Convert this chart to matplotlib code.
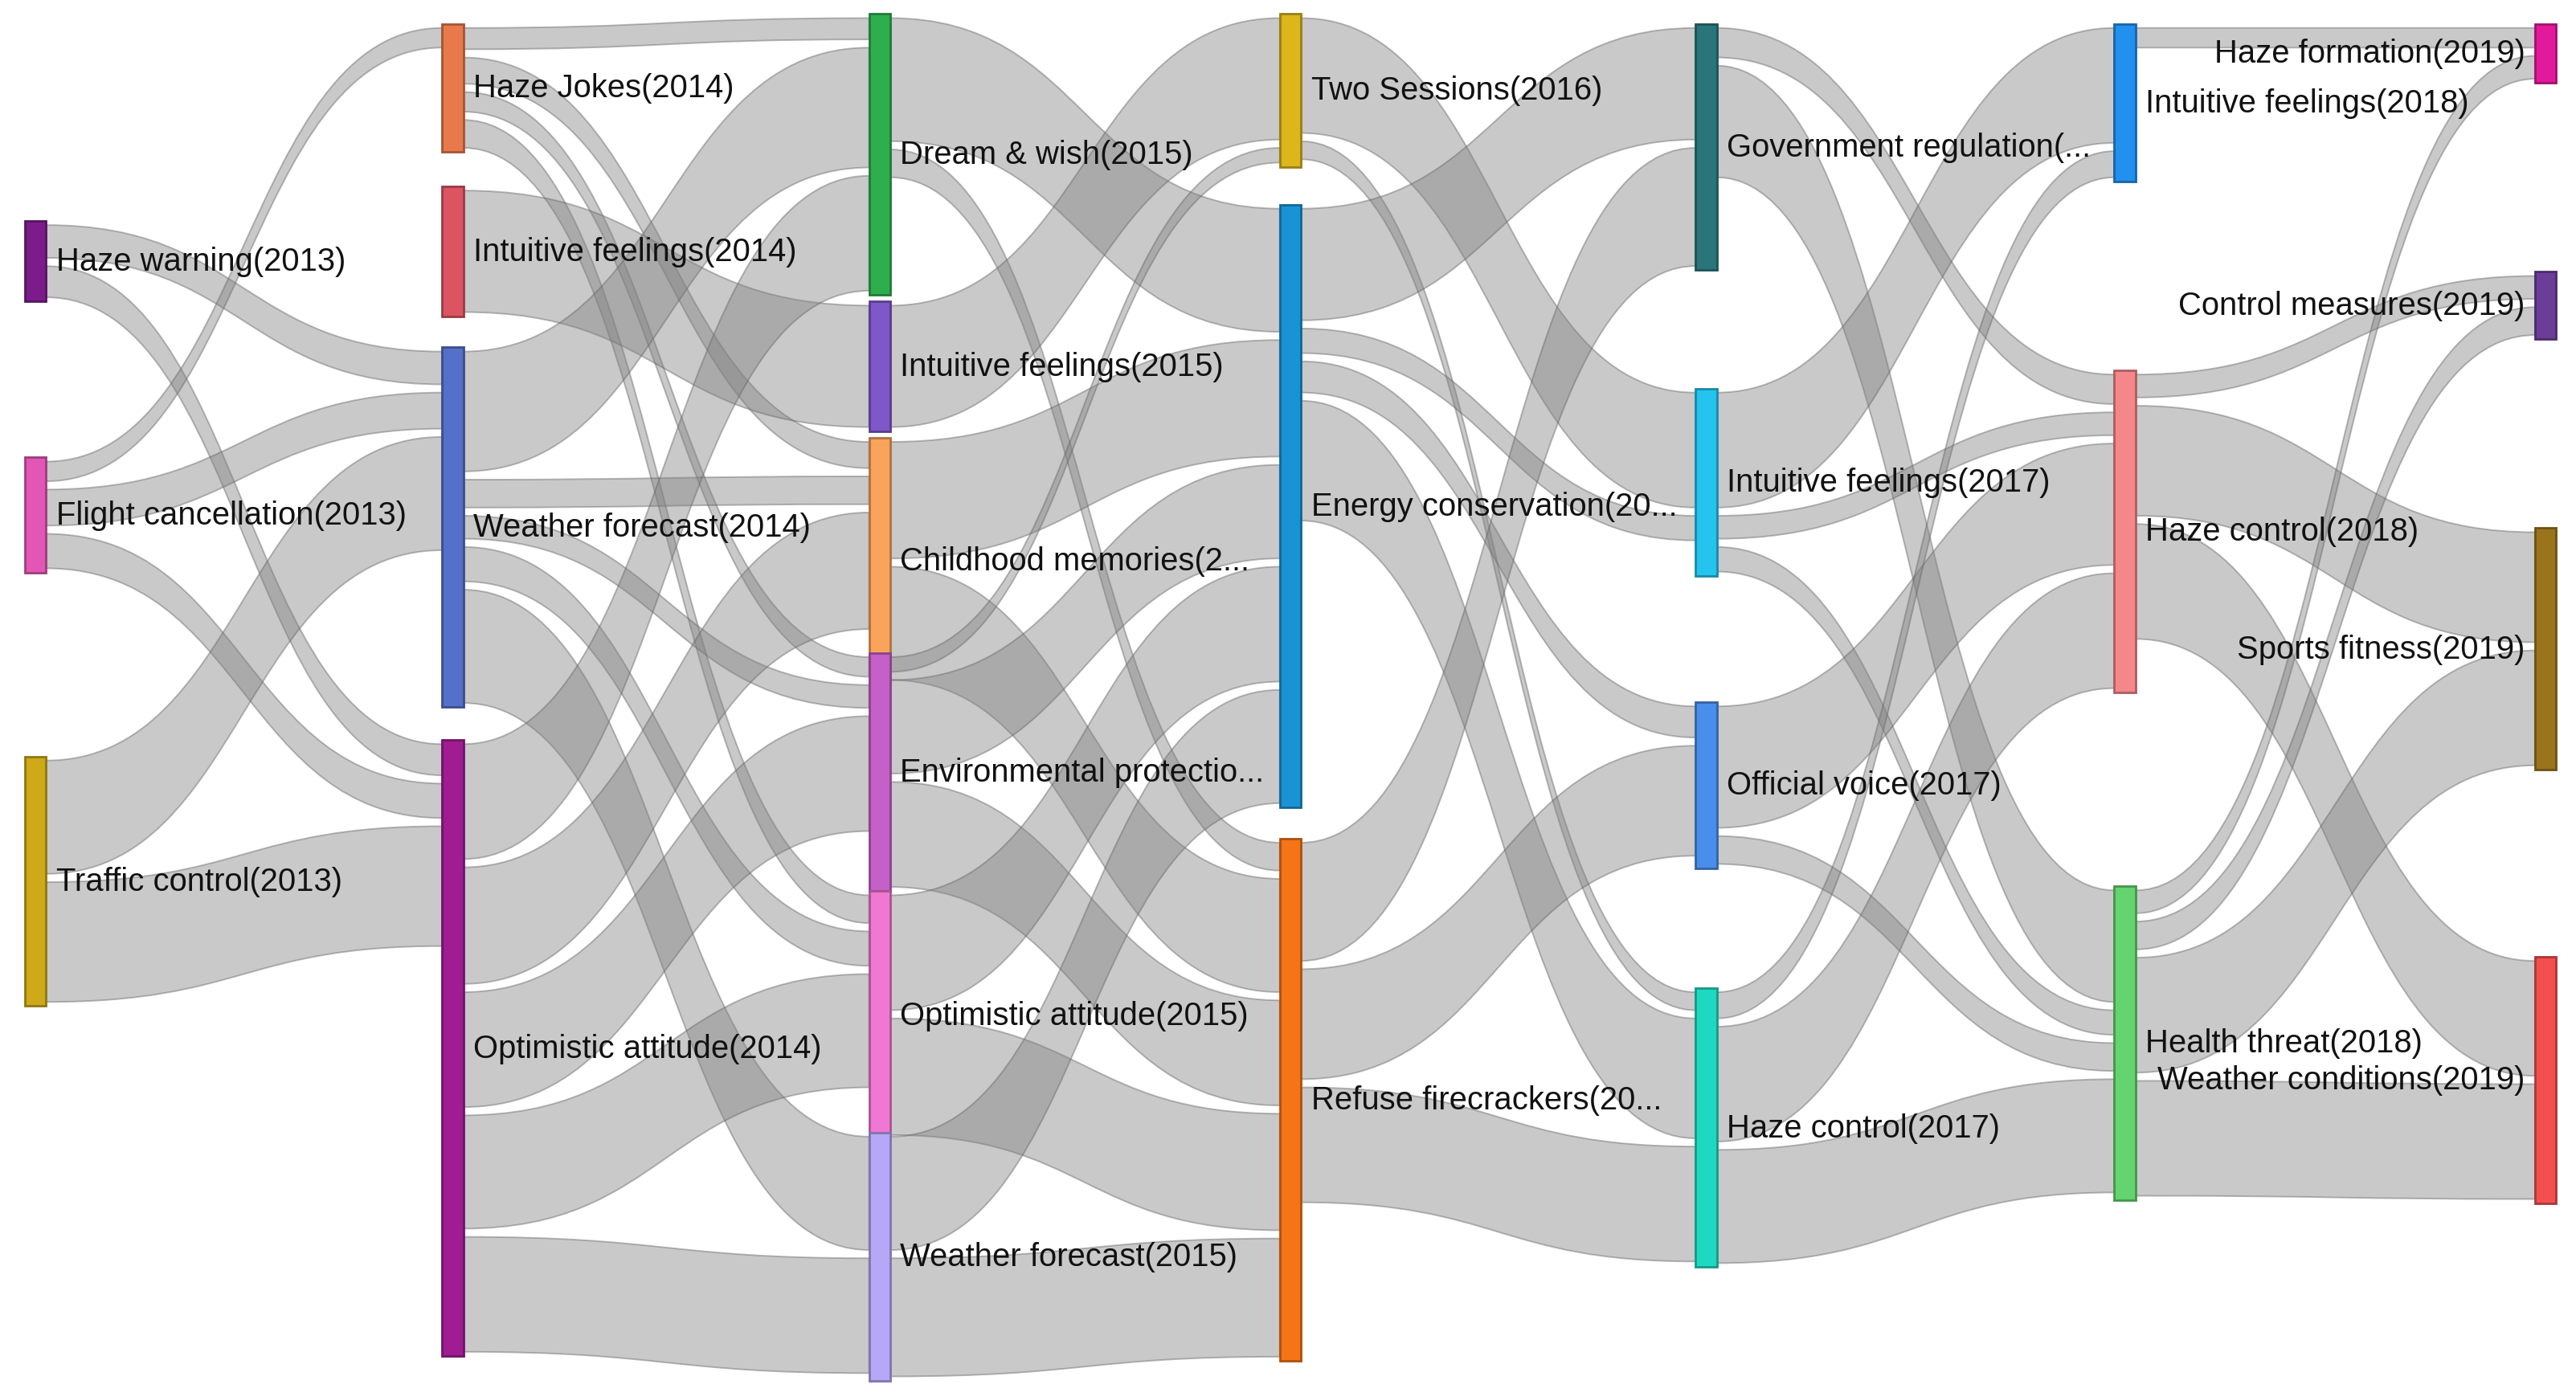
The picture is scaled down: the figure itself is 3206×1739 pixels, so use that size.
import matplotlib.pyplot as plt
from matplotlib.path import Path
from matplotlib.patches import PathPatch, Rectangle
from matplotlib import colors as mcolors

# topics per year (column = year index)
node_labels = [
    "Haze warning(2013)", "Flight cancellation(2013)", "Traffic control(2013)",
    "Haze Jokes(2014)", "Intuitive feelings(2014)", "Weather forecast(2014)", "Optimistic attitude(2014)",
    "Dream & wish(2015)", "Intuitive feelings(2015)", "Childhood memories(2...", "Environmental protectio...",
    "Optimistic attitude(2015)", "Weather forecast(2015)",
    "Two Sessions(2016)", "Energy conservation(20...", "Refuse firecrackers(20...",
    "Government regulation(...", "Intuitive feelings(2017)", "Official voice(2017)", "Haze control(2017)",
    "Intuitive feelings(2018)", "Haze control(2018)", "Health threat(2018)",
    "Haze formation(2019)", "Control measures(2019)", "Sports fitness(2019)", "Weather conditions(2019)",
]
node_column = [0, 0, 0, 1, 1, 1, 1, 2, 2, 2, 2, 2, 2, 3, 3, 3, 4, 4, 4, 4, 5, 5, 5, 6, 6, 6, 6]
node_colors = [
    "#7b1c8a", "#e257b5", "#cdaa19",
    "#e8794a", "#db5461", "#5470c8", "#a01c92",
    "#2fae4e", "#7e57c9", "#f9a35b", "#c460c8", "#f078d2", "#b7a7f7",
    "#dcb61b", "#1a93d4", "#f57416",
    "#2a757a", "#23c4ee", "#4a8eeb", "#1ed9c2",
    "#2190ee", "#f5868a", "#64d46e",
    "#e3199b", "#6a3d99", "#9a741b", "#f34f4f",
]

link_source = [
    "Haze warning(2013)", "Haze warning(2013)",
    "Flight cancellation(2013)", "Flight cancellation(2013)", "Flight cancellation(2013)",
    "Traffic control(2013)", "Traffic control(2013)",
    "Haze Jokes(2014)", "Haze Jokes(2014)", "Haze Jokes(2014)", "Haze Jokes(2014)",
    "Intuitive feelings(2014)",
    "Weather forecast(2014)", "Weather forecast(2014)", "Weather forecast(2014)",
    "Weather forecast(2014)", "Weather forecast(2014)",
    "Optimistic attitude(2014)", "Optimistic attitude(2014)", "Optimistic attitude(2014)",
    "Optimistic attitude(2014)", "Optimistic attitude(2014)",
    "Dream & wish(2015)", "Dream & wish(2015)",
    "Intuitive feelings(2015)",
    "Childhood memories(2...", "Childhood memories(2...",
    "Environmental protectio...", "Environmental protectio...", "Environmental protectio...",
    "Optimistic attitude(2015)", "Optimistic attitude(2015)",
    "Weather forecast(2015)", "Weather forecast(2015)",
    "Two Sessions(2016)", "Two Sessions(2016)",
    "Energy conservation(20...", "Energy conservation(20...", "Energy conservation(20...",
    "Energy conservation(20...",
    "Refuse firecrackers(20...", "Refuse firecrackers(20...", "Refuse firecrackers(20...",
    "Government regulation(...", "Government regulation(...",
    "Intuitive feelings(2017)", "Intuitive feelings(2017)", "Intuitive feelings(2017)",
    "Official voice(2017)", "Official voice(2017)",
    "Haze control(2017)", "Haze control(2017)", "Haze control(2017)",
    "Intuitive feelings(2018)",
    "Haze control(2018)", "Haze control(2018)", "Haze control(2018)",
    "Health threat(2018)", "Health threat(2018)", "Health threat(2018)", "Health threat(2018)",
]
link_target = [
    "Weather forecast(2014)", "Optimistic attitude(2014)",
    "Haze Jokes(2014)", "Weather forecast(2014)", "Optimistic attitude(2014)",
    "Weather forecast(2014)", "Optimistic attitude(2014)",
    "Dream & wish(2015)", "Childhood memories(2...", "Environmental protectio...", "Optimistic attitude(2015)",
    "Intuitive feelings(2015)",
    "Dream & wish(2015)", "Childhood memories(2...", "Environmental protectio...",
    "Optimistic attitude(2015)", "Weather forecast(2015)",
    "Dream & wish(2015)", "Childhood memories(2...", "Environmental protectio...",
    "Optimistic attitude(2015)", "Weather forecast(2015)",
    "Energy conservation(20...", "Refuse firecrackers(20...",
    "Two Sessions(2016)",
    "Energy conservation(20...", "Refuse firecrackers(20...",
    "Two Sessions(2016)", "Energy conservation(20...", "Refuse firecrackers(20...",
    "Energy conservation(20...", "Refuse firecrackers(20...",
    "Energy conservation(20...", "Refuse firecrackers(20...",
    "Intuitive feelings(2017)", "Haze control(2017)",
    "Government regulation(...", "Intuitive feelings(2017)", "Official voice(2017)",
    "Haze control(2017)",
    "Government regulation(...", "Official voice(2017)", "Haze control(2017)",
    "Haze control(2018)", "Health threat(2018)",
    "Intuitive feelings(2018)", "Haze control(2018)", "Health threat(2018)",
    "Haze control(2018)", "Health threat(2018)",
    "Intuitive feelings(2018)", "Haze control(2018)", "Health threat(2018)",
    "Haze formation(2019)",
    "Control measures(2019)", "Sports fitness(2019)", "Weather conditions(2019)",
    "Haze formation(2019)", "Control measures(2019)", "Sports fitness(2019)", "Weather conditions(2019)",
]
link_value = [
    25, 24,
    17, 27, 26,
    74, 78,
    18, 21, 17, 22,
    79,
    78, 22, 19, 26, 74,
    75, 76, 75, 74, 75,
    80, 22,
    79,
    76, 74,
    14, 62, 69,
    75, 76,
    74, 77,
    75, 16,
    73, 20, 24, 78,
    77, 72, 75,
    23, 73,
    75, 19, 20,
    79, 22,
    21, 75, 74,
    17,
    19, 72, 75,
    19, 22, 75, 75,
]

# layout: canvas is 1568 x 851 units, node tops as placed in the original layout
col_x = [15, 269, 529, 779, 1032, 1287, 1543]
node_top = [135, 279, 461,
            15, 114, 212, 451,
            9, 184, 267, 398, 543, 690,
            9, 125, 511,
            15, 237, 428, 602,
            15, 226, 540,
            15, 166, 322, 583]
W, H = 1568, 851
node_w = 13
inset = 2.5

fig = plt.figure(figsize=(3206 / 200, 1740 / 200), dpi=200)
ax = fig.add_axes([0, 0, 1, 1])
ax.set_xlim(0, W)
ax.set_ylim(H, 0)
ax.axis("off")

idx = {lab: i for i, lab in enumerate(node_labels)}
src = [idx[s] for s in link_source]
tgt = [idx[t] for t in link_target]
n = len(node_labels)
in_sum = [0] * n
out_sum = [0] * n
for s, t, v in zip(src, tgt, link_value):
    out_sum[s] += v
    in_sum[t] += v
height = [max(a, b) for a, b in zip(in_sum, out_sum)]
center = [node_top[i] + height[i] / 2 for i in range(n)]
xpos = [col_x[c] for c in node_column]

# stack links inside each node, ordered by the position of the other end
out_off, in_off = {}, {}
for i in range(n):
    y = node_top[i]
    for k in sorted([k for k in range(len(src)) if src[k] == i], key=lambda k: center[tgt[k]]):
        out_off[k] = y
        y += link_value[k]
    y = node_top[i]
    for k in sorted([k for k in range(len(tgt)) if tgt[k] == i], key=lambda k: center[src[k]]):
        in_off[k] = y
        y += link_value[k]

for k, v in enumerate(link_value):
    x0 = xpos[src[k]] + node_w
    x1 = xpos[tgt[k]]
    xm = (x0 + x1) / 2
    a0, a1 = out_off[k] + inset, out_off[k] + v - inset
    b0, b1 = in_off[k] + inset, in_off[k] + v - inset
    verts = [(x0, a0), (xm, a0), (xm, b0), (x1, b0),
             (x1, b1), (xm, b1), (xm, a1), (x0, a1), (x0, a0)]
    codes = [Path.MOVETO, Path.CURVE4, Path.CURVE4, Path.CURVE4,
             Path.LINETO, Path.CURVE4, Path.CURVE4, Path.CURVE4, Path.CLOSEPOLY]
    ax.add_patch(PathPatch(Path(verts, codes), facecolor=(0.5, 0.5, 0.5, 0.42),
                           edgecolor=(0.4, 0.4, 0.4, 0.45), lw=0.7, zorder=1))

for i in range(n):
    rgb = mcolors.to_rgb(node_colors[i])
    edge = tuple(c * 0.7 for c in rgb)
    ax.add_patch(Rectangle((xpos[i], node_top[i]), node_w, height[i],
                           facecolor=rgb, edgecolor=edge, lw=1.0, zorder=2))

for i in range(n):
    if node_column[i] == 6:
        ax.text(xpos[i] - 6, center[i], node_labels[i], ha="right", va="center",
                fontsize=14.4, family=["Liberation Sans", "DejaVu Sans"], color="#111111", zorder=3)
    else:
        ax.text(xpos[i] + node_w + 6, center[i], node_labels[i], ha="left", va="center",
                fontsize=14.4, family=["Liberation Sans", "DejaVu Sans"], color="#111111", zorder=3)

fig.savefig("out.png", dpi=200, facecolor="white")
